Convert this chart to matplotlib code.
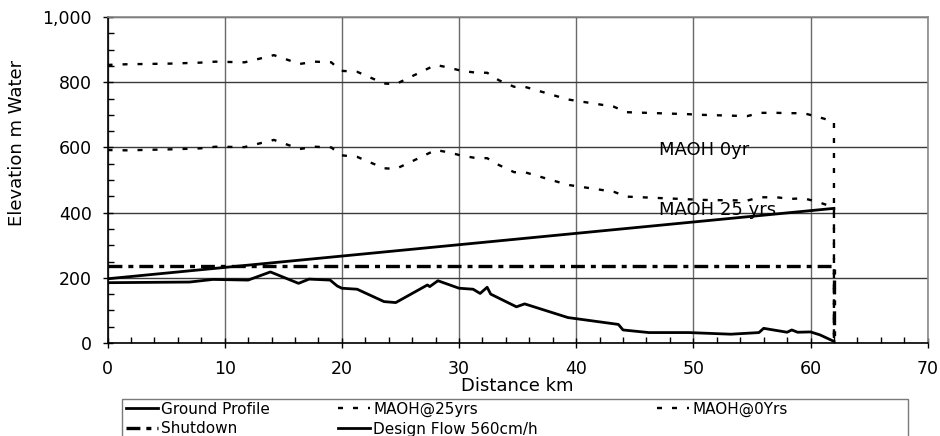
import matplotlib
matplotlib.use("Agg")
import matplotlib.pyplot as plt
from matplotlib.ticker import MultipleLocator, FuncFormatter
from matplotlib.patches import Rectangle

plt.rcParams['font.family'] = ['DejaVu Sans']
plt.rcParams['lines.scale_dashes'] = False

# ---- data ----
ground_km = [0, 7.0, 9.0, 12.0, 13.9, 16.3, 17.2, 19.0, 19.6, 20.0, 21.3, 23.6, 24.6,
             27.3, 27.5, 28.2, 30.0, 31.2, 31.8, 32.4, 32.7, 34.9, 35.6, 39.3, 43.6,
             44.0, 46.2, 49.6, 53.2, 55.6, 56.0, 58.0, 58.4, 58.9, 60.0, 60.8, 62.0]
ground_m = [185, 187, 195, 193, 218, 183, 196, 193, 175, 168, 165, 127, 124,
            178, 173, 191, 168, 165, 152, 171, 150, 111, 120, 78, 57,
            40, 32, 32, 27, 32, 45, 33, 40, 33, 34, 25, 5]

maoh_km = [0, 1.6, 5.3, 7.9, 9.2, 11.7, 14.2, 16.4, 17.7, 19.1, 19.9, 21.3, 23.6,
           24.6, 25.8, 28.0, 29.1, 30.2, 31.5, 32.4, 33.4, 34.7, 35.6, 39.3, 43.2,
           44.3, 49.5, 50.6, 54.6, 55.7, 57.1, 58.3, 59.4, 60.6, 62.0, 62.0]
maoh25_m = [592, 591, 594, 597, 602, 601, 623, 595, 602, 600, 576, 571, 536,
            534, 554, 592, 585, 575, 567, 567, 546, 524, 524, 485, 464,
            449, 441, 439, 437, 447, 447, 442, 444, 433, 416, 0]
maoh0_m = [853, 855, 857, 860, 863, 861, 883, 856, 863, 861, 835, 832, 796,
           794, 815, 853, 845, 835, 829, 829, 806, 786, 786, 747, 725,
           708, 702, 700, 696, 706, 706, 705, 705, 694, 679, 0]

shutdown_km = [0, 62, 62]
shutdown_m = [235, 235, 0]

design_km = [0, 62]
design_m = [197, 413]

# ---- figure ----
fig = plt.figure(figsize=(9.4, 4.36), dpi=100)
ax = fig.add_axes([0.1144, 0.2133, 0.8725, 0.7477])

ax.set_xlim(0, 70)
ax.set_ylim(0, 1000)

ax.xaxis.set_major_locator(MultipleLocator(10))
ax.xaxis.set_minor_locator(MultipleLocator(2))
ax.yaxis.set_major_locator(MultipleLocator(200))
ax.yaxis.set_minor_locator(MultipleLocator(50))
ax.yaxis.set_major_formatter(FuncFormatter(lambda v, p: f"{v:,.0f}"))

ax.grid(True, which='major', axis='y', color='#3a3a3a', linewidth=1.0)
ax.grid(True, which='major', axis='x', color='#6a6a6a', linewidth=1.0)
ax.set_axisbelow(True)

ax.tick_params(which='major', direction='inout', length=7, width=1, labelsize=12.5,
               pad=8)
ax.tick_params(which='minor', direction='in', length=4, width=1)
ax.tick_params(axis='x', which='major', pad=9)

for s in ['left', 'bottom']:
    ax.spines[s].set_color('black')
    ax.spines[s].set_linewidth(1.2)
for s in ['top', 'right']:
    ax.spines[s].set_color('#8a8a8a')
    ax.spines[s].set_linewidth(1.2)

h_ground, = ax.plot(ground_km, ground_m, color='black', linewidth=2.0,
                    solid_joinstyle='round', label='Ground Profile')
h_m25, = ax.plot(maoh_km, maoh25_m, color='black', linewidth=1.7,
                 dashes=(3.6, 7.2), label='MAOH@25yrs')
h_m0, = ax.plot(maoh_km, maoh0_m, color='black', linewidth=1.7,
                dashes=(3.6, 7.2), label='MAOH@0Yrs')
h_sd, = ax.plot(shutdown_km, shutdown_m, color='black', linewidth=2.4,
                dashes=(10, 4.3, 3.6, 4.3), label='Shutdown')
h_df, = ax.plot(design_km, design_m, color='black', linewidth=2.0,
                label='Design Flow 560cm/h')

ax.text(47.1, 592, "MAOH 0yr", va='center', ha='left', fontsize=13)
ax.text(47.1, 408, "MAOH 25 yrs", va='center', ha='left', fontsize=13)

ax.set_xlabel("Distance km", fontsize=13)
ax.set_ylabel("Elevation m Water", fontsize=13)
ax.xaxis.set_label_coords(0.5, -0.105)
ax.yaxis.set_label_coords(-0.100, 0.615)

# ---- legend (frame cut off at the bottom, as in the reference) ----
fig.add_artist(Rectangle((122 / 940, -0.05), (908 - 122) / 940, 0.05 + (436 - 399) / 436,
                         transform=fig.transFigure, fill=False,
                         edgecolor='#7a7a7a', linewidth=1.0))

leg_kw = dict(loc='upper left', frameon=False, fontsize=11, borderpad=0,
              borderaxespad=0, handlelength=2.1, handletextpad=0.2,
              labelspacing=0.32)
y_top = (436 - 401.5) / 436
fig.legend(handles=[h_ground, h_sd], bbox_to_anchor=(126 / 940, y_top), **leg_kw)
fig.legend(handles=[h_m25, h_df], bbox_to_anchor=(338 / 940, y_top), **leg_kw)
fig.legend(handles=[h_m0], bbox_to_anchor=(657 / 940, y_top), **leg_kw)

fig.savefig("out.png", dpi=100)
